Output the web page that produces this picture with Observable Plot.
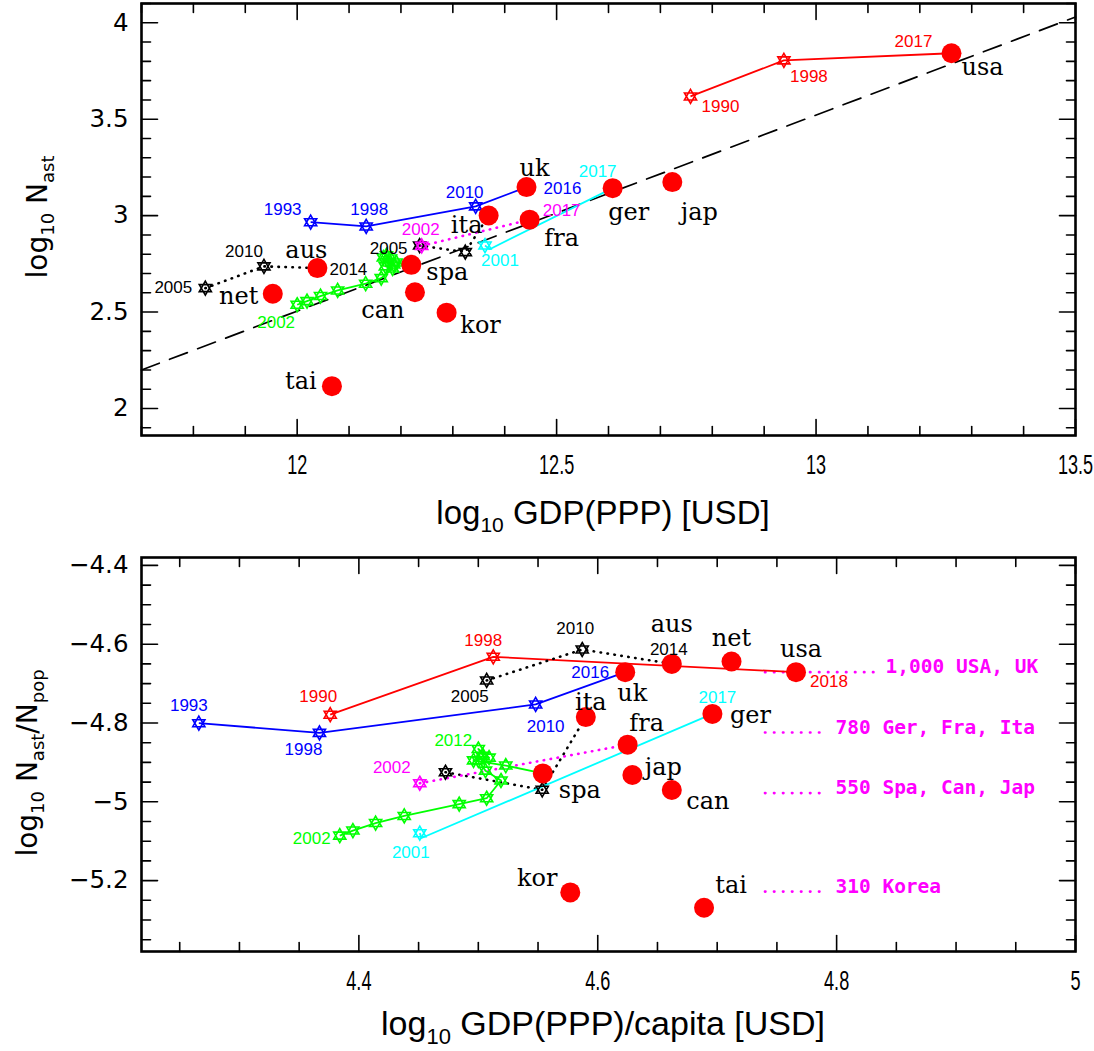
<!DOCTYPE html>
<html><head><meta charset="utf-8">
<script src="https://cdn.jsdelivr.net/npm/d3@7"></script>
<script src="https://cdn.jsdelivr.net/npm/@observablehq/plot@0.6"></script>
<style>
body{margin:0;background:#fff;}
#chart svg{display:block;}
</style></head><body><div id="chart"></div>
<script>
// ---------------- DATA ----------------
const countries = ["usa","uk","ita","fra","ger","jap","aus","net","spa","can","kor","tai"];
// top panel: log10 GDP(PPP) vs log10 N_ast (latest year)
const gdpLog   = [13.261,12.442,12.369,12.448,12.608,12.723,12.039,11.953,12.220,12.227,12.288,12.067];
const nAstLog  = [3.842,3.148,3.001,2.979,3.1425,3.174,2.728,2.595,2.745,2.603,2.497,2.116];
// bottom panel: log10 GDP(PPP)/capita vs log10 N_ast/N_pop (latest year)
const gdpCapLog  = [4.766,4.623,4.590,4.625,4.696,4.629,4.662,4.712,4.554,4.662,4.577,4.689];
const nAstPopLog = [-4.671,-4.671,-4.785,-4.855,-4.777,-4.932,-4.650,-4.644,-4.928,-4.970,-5.230,-5.269];

// track histories (earlier years; final year = the country dot above)
const usaYearsTop = [1990,1998,2017], usaYearsBot = [1990,1998,2018];
const usaTopX = [12.758,12.938], usaTopY = [3.618,3.805];
const usaBotX = [4.376,4.5125],  usaBotY = [-4.779,-4.632];
const ukYears = [1993,1998,2010,2016];
const ukTopX = [12.026,12.133,12.344], ukTopY = [2.966,2.944,3.048];
const ukBotX = [4.266,4.367,4.548],    ukBotY = [-4.8006,-4.825,-4.753];
const ausYears = [2005,2010,2014];
const ausTopX = [11.823,11.936], ausTopY = [2.624,2.737];
const ausBotX = [4.507,4.587],   ausBotY = [-4.692,-4.6135];
const itaYears = [2005,2010,2017];
const itaTopX = [12.236,12.324], itaTopY = [2.845,2.811];
const itaBotX = [4.4725,4.5535], itaBotY = [-4.925,-4.9696];
const fraYears = [2002,2017];
const fraTopX = [12.240], fraTopY = [2.843];
const fraBotX = [4.451],  fraBotY = [-4.953];
const gerYears = [2001,2002,2017];
const gerTopX = [12.362,12.371], gerTopY = [2.845,2.826];
const gerBotX = [4.451,4.4525],  gerBotY = [-5.0797,-5.092];
const spaYears = [2002,2003,2004,2005,2006,2007,2008,2009,2010,2011,2012,2013,2014,2015,2016];
const spaTopX = [12.000,12.019,12.045,12.078,12.132,12.162,12.184,12.176,12.166,12.172,12.180,12.186,12.170,12.191];
const spaTopY = [2.538,2.557,2.583,2.612,2.647,2.676,2.726,2.757,2.783,2.794,2.778,2.747,2.737,2.757];
const spaBotX = [4.384,4.395,4.414,4.438,4.484,4.507,4.519,4.506,4.500,4.504,4.500,4.509,4.496,4.523];
const spaBotY = [-5.086,-5.073,-5.054,-5.036,-5.006,-4.991,-4.946,-4.921,-4.895,-4.883,-4.866,-4.888,-4.895,-4.908];

// reference line (top panel)
const fitX = [11.7, 13.5], fitY = [2.20, 4.03];

// population annotations (bottom panel)
const popText  = ["1,000 USA, UK","780 Ger, Fra, Ita","550 Spa, Can, Jap","310 Korea"];
const popLevel = [-4.671,-4.824,-4.978,-5.228];
const popFrom  = [4.740,4.740,4.740,4.740];
const popTo    = [4.837,4.786,4.786,4.786];
const popTextX = [4.841,4.799,4.799,4.799];

// axes
const topXTicks = [12,12.5,13,13.5];
const topYTicks = [2,2.5,3,3.5,4];
const botXTicks = [4.4,4.6,4.8,5];
const botYTicks = [-5.2,-5,-4.8,-4.6,-4.4];

// ---------------- STYLE / LAYOUT ----------------
const trackColor = {usa:"#ff0000", uk:"#0000ff", aus:"#000000", ita:"#000000", fra:"#ff00ff", ger:"#00ffff", spa:"#00ff00"};
const trackDotted = {aus:true, ita:true, fra:true};
const noStar = {ger:[1]};
const tracksTop = {usa:[usaTopX,usaTopY,usaYearsTop], uk:[ukTopX,ukTopY,ukYears], aus:[ausTopX,ausTopY,ausYears],
  ita:[itaTopX,itaTopY,itaYears], fra:[fraTopX,fraTopY,fraYears], ger:[gerTopX,gerTopY,gerYears], spa:[spaTopX,spaTopY,spaYears]};
const tracksBot = {usa:[usaBotX,usaBotY,usaYearsBot], uk:[ukBotX,ukBotY,ukYears], aus:[ausBotX,ausBotY,ausYears],
  ita:[itaBotX,itaBotY,itaYears], fra:[fraBotX,fraBotY,fraYears], ger:[gerBotX,gerBotY,gerYears], spa:[spaBotX,spaBotY,spaYears]};

// label offsets in px: [track, index, dx, dy]
const topYearLab = [["usa",2,-38,-12],["usa",1,25,16],["usa",0,30,10],["uk",3,36,1],["uk",2,-11,-14],["uk",1,3,-17],["uk",0,-28,-13],
  ["ger",2,-15,-17],["ger",0,15,15],["fra",1,32,-9],["fra",0,-1,-16],["ita",0,-31,3],["aus",0,-32,-1],["aus",1,-20,-15],["aus",2,31,1],["spa",0,-21,18]];
const botYearLab = [["uk",0,-10,-18],["uk",1,-16,17],["uk",2,10,22],["uk",3,-35,0],["usa",0,-12,-18],["usa",1,-10,-16],["usa",2,33,9],
  ["aus",0,-17,16],["aus",1,-7,-21],["aus",2,-3,-14],["ger",0,-9,19],["ger",2,5,-16],["spa",10,-25,-8],["spa",0,-28,3],["fra",0,-28,-16]];
const topCountryOff = [[31,14],[8,-19],[-22,10],[32,19],[16,24],[27,30],[-11,-18],[-34,3],[36,7],[-32,18],[34,13],[-31,-5]];
const botCountryOff = [[5,-23],[7,21],[5,-15],[19,-21],[38,1],[31,-8],[0,-40],[0,-23],[37,17],[36,11],[-33,-14],[27,-22]];

const hexagram = {draw(ctx, size){
  const R = Math.sqrt(size/Math.PI);
  for (const a0 of [-90, 90]) {
    for (let k=0;k<3;k++){ const a=(a0+k*120)*Math.PI/180; const px=R*Math.cos(a), py=R*Math.sin(a); k?ctx.lineTo(px,py):ctx.moveTo(px,py); }
    ctx.closePath();
  }
}};
const tickShape = {draw(ctx, l){ ctx.moveTo(0,0); ctx.lineTo(0,-l); }};

function buildRows(tracks, cx, cy) {
  const rows = {};
  for (const [name,[xs,ys,yrs]] of Object.entries(tracks)) {
    const ci = countries.indexOf(name);
    const r = xs.map((x,i)=>({name,i,x,y:ys[i],year:yrs[i],star:!(noStar[name]||[]).includes(i)}));
    r.push({name,i:xs.length,x:cx[ci],y:cy[ci],year:yrs[xs.length],star:false});
    rows[name]=r;
  }
  return rows;
}

function frameTicks(xd, yd, xMaj, yMaj, xStep, yStep) {
  const xMin = d3.range(Math.ceil(xd[0]/xStep - 1e-6), Math.floor(xd[1]/xStep + 1e-6)+1).map(k=>+(k*xStep).toFixed(4)).filter(v=>!xMaj.includes(v));
  const yMin = d3.range(Math.ceil(yd[0]/yStep - 1e-6), Math.floor(yd[1]/yStep + 1e-6)+1).map(k=>+(k*yStep).toFixed(4)).filter(v=>!yMaj.includes(v));
  const o = {shape: tickShape, anchor:"start", stroke:"black", strokeWidth:1.6};
  const out = [];
  for (const [arr,len] of [[xMaj,16],[xMin,9]]) {
    out.push(Plot.vector(arr, {...o, x:d=>d, y:()=>yd[0], length:len, rotate:0}));
    out.push(Plot.vector(arr, {...o, x:d=>d, y:()=>yd[1], length:len, rotate:180}));
  }
  for (const [arr,len] of [[yMaj,16],[yMin,9]]) {
    out.push(Plot.vector(arr, {...o, y:d=>d, x:()=>xd[0], length:len, rotate:90}));
    out.push(Plot.vector(arr, {...o, y:d=>d, x:()=>xd[1], length:len, rotate:-90}));
  }
  return out;
}
const fmt = d => (d<0?"\u2212":"") + Math.abs(d);
const yearFont = {fontFamily:"Liberation Sans, Arial, sans-serif", fontSize:17};
const ctryFont = {fontFamily:"DejaVu Serif, serif", fontSize:24, fill:"black"};
const narrow = "Liberation Sans Narrow, Liberation Sans, sans-serif";

function panel(opts) {
  const {xd, yd, cx, cy, tracks, yearLab, ctryOff, xTicks, yTicks, xStep, yStep, extra, height, mt, mb} = opts;
  const rows = buildRows(tracks, cx, cy);
  const marks = [];
  marks.push(...(extra.pre||[]));
  for (const [name, r] of Object.entries(rows)) {
    marks.push(Plot.line(r, {x:"x", y:"y", stroke:trackColor[name], strokeWidth: trackDotted[name]?2.6:1.8,
      strokeDasharray: trackDotted[name]?"0.5,6.5":null, strokeLinecap: trackDotted[name]?"round":"butt"}));
  }
  for (const [name, r] of Object.entries(rows)) {
    marks.push(Plot.dot(r.filter(d=>d.star), {x:"x", y:"y", symbol:hexagram, r:7, stroke:trackColor[name], strokeWidth:1.6, fill:"none"}));
  }
  const ctry = countries.map((c,i)=>({c, x:cx[i], y:cy[i], i}));
  marks.push(Plot.dot(ctry, {x:"x", y:"y", r:10, fill:"#ff0000"}));
  marks.push(...(extra.post||[]));
  for (const [name,idx,dx,dy] of yearLab) {
    const d = rows[name][idx];
    marks.push(Plot.text([d], {x:"x", y:"y", text:d=>String(d.year), dx, dy, fill:trackColor[name], ...yearFont}));
  }
  ctry.forEach((d,i)=>{
    marks.push(Plot.text([d], {x:"x", y:"y", text:"c", dx:ctryOff[i][0], dy:ctryOff[i][1], ...ctryFont}));
  });
  marks.push(Plot.frame({stroke:"black", strokeWidth:2.6}));
  marks.push(...frameTicks(xd, yd, xTicks, yTicks, xStep, yStep));
  marks.push(Plot.axisX({ticks:xTicks, tickSize:0, tickPadding:19, tickFormat:fmt, fontSize:27, fontFamily:"Liberation Sans, sans-serif", textAnchor:"end", label:null}));
  marks.push(Plot.axisY({ticks:yTicks, tickSize:0, tickPadding:13, tickFormat:fmt, fontSize:24.5, fontFamily:"DejaVu Sans", label:null}));
  return Plot.plot({width:1094, height, marginLeft:141, marginRight:19, marginTop:mt, marginBottom:mb,
    style:{background:"white", color:"black", fontFamily:"DejaVu Sans"},
    x:{domain:xd}, y:{domain:yd}, marks});
}

const fitRows = fitX.map((x,i)=>({x, y:fitY[i]}));
const svgTop = panel({xd:[11.7,13.5], yd:[1.86,4.1], cx:gdpLog, cy:nAstLog, tracks:tracksTop, yearLab:topYearLab, ctryOff:topCountryOff,
  xTicks:topXTicks, yTicks:topYTicks, xStep:0.1, yStep:0.1, height:545, mt:3, mb:110,
  extra:{pre:[Plot.line(fitRows, {x:"x", y:"y", stroke:"black", strokeWidth:1.7, strokeDasharray:"19,11"})]}});

const popRows = popText.map((t,i)=>({t, y:popLevel[i], x1:popFrom[i], x2:popTo[i], tx:popTextX[i]}));
const svgBot = panel({xd:[4.218,5.0], yd:[-5.38,-4.38], cx:gdpCapLog, cy:nAstPopLog, tracks:tracksBot, yearLab:botYearLab, ctryOff:botCountryOff,
  xTicks:botXTicks, yTicks:botYTicks, xStep:0.05, yStep:0.05, height:506, mt:12, mb:100,
  extra:{pre:[Plot.link(popRows, {x1:"x1", x2:"x2", y1:"y", y2:"y", stroke:"#ff00ff", strokeWidth:2.6, strokeDasharray:"0.5,8.5", strokeLinecap:"round"})],
         post:[Plot.text(popRows, {x:"tx", y:"y", text:"t", dy:-5, textAnchor:"start", fill:"#ff00ff", fontFamily:"DejaVu Sans Mono, monospace", fontWeight:"bold", fontSize:19.5})]}});

function addTitles(svg, xParts, xPos, yParts, yPos, xSize, ySize) {
  const s = d3.select(svg);
  const add = (parts, transform, size, fam) => {
    const t = s.append("text").attr("transform", transform).attr("text-anchor","middle")
      .style("font-family", fam).style("font-size", size+"px").attr("fill","black");
    let sub = false;
    for (const [txt, isSub] of parts) {
      const ts = t.append("tspan").text(txt);
      if (isSub) ts.style("font-size", Math.round(size*0.65)+"px");
      if (isSub !== sub) ts.attr("dy", isSub ? size*0.25 : -size*0.25);
      sub = isSub;
    }
  };
  add(xParts, `translate(${xPos[0]},${xPos[1]})`, xSize, narrow);
  add(yParts, `translate(${yPos[0]},${yPos[1]}) rotate(-90)`, ySize, "DejaVu Sans, sans-serif");
}
addTitles(svgTop, [["log",false],["10",true],[" GDP(PPP) [USD]",false]], [603,524],
  [["log",false],["10",true],[" N",false],["ast",true]], [47,217], 33, 28);
addTitles(svgBot, [["log",false],["10",true],[" GDP(PPP)/capita [USD]",false]], [603,490],
  [["log",false],["10",true],[" N",false],["ast",true],["/N",false],["pop",true]], [37,218], 34, 28);

document.getElementById("chart").append(svgTop, svgBot);

// condensed look for the x tick labels (as in the reference); labels are end-anchored, shifted back to centre
for (const svg of [svgTop, svgBot]) {
  d3.select(svg).selectAll('g[aria-label="x-axis tick label"] text').each(function(){
    const w = this.getComputedTextLength();
    if (w > 0) {
      const cw = w*0.67;
      this.setAttribute("textLength", cw.toFixed(1));
      this.setAttribute("lengthAdjust","spacingAndGlyphs");
      this.setAttribute("dx", (cw/2).toFixed(1));
    }
  });
}
</script></body></html>
